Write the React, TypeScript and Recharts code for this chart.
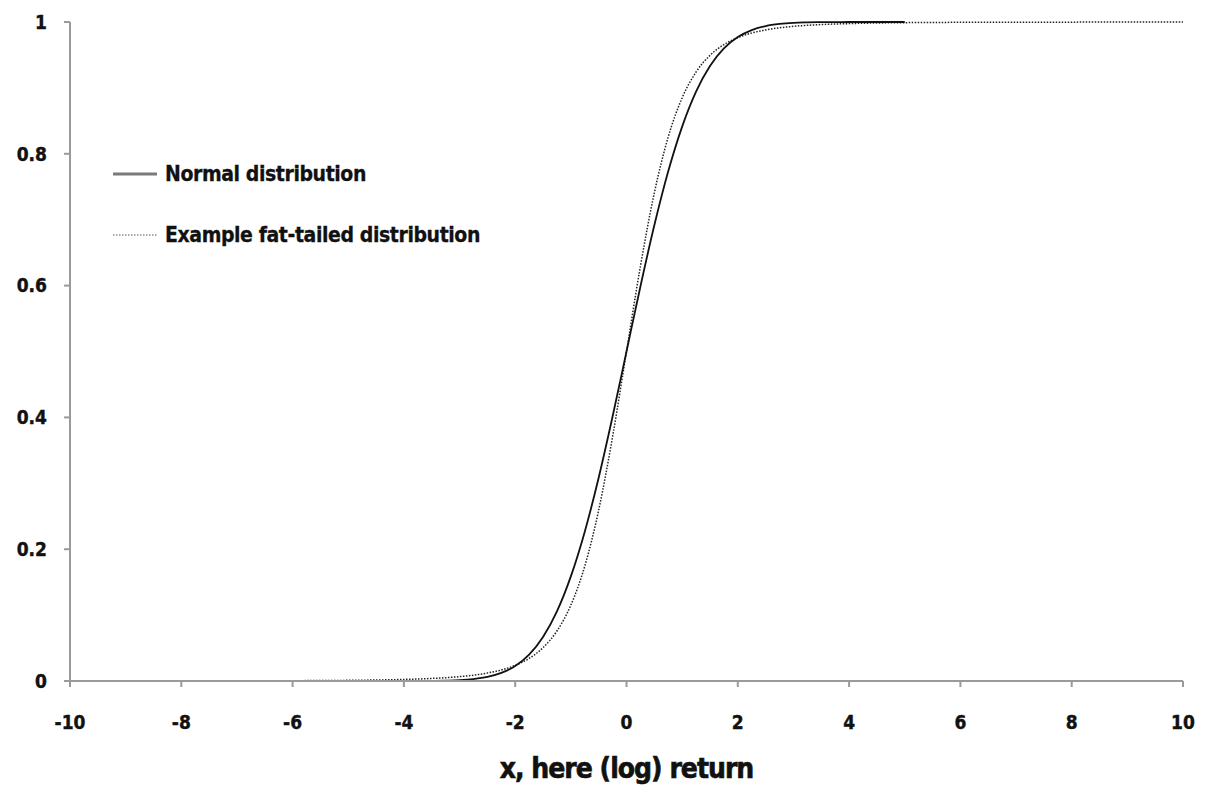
import React from "react";
import { LineChart, Line, XAxis, YAxis, Label } from "recharts";

// normal distribution CDF (drawn from -5 to 5)
const normalX = [-5, -4.5, -4, -3.75, -3.5, -3.25, -3, -2.75, -2.5, -2.25, -2, -1.75, -1.5, -1.25, -1, -0.75, -0.5, -0.25, 0,
  0.25, 0.5, 0.75, 1, 1.25, 1.5, 1.75, 2, 2.25, 2.5, 2.75, 3, 3.25, 3.5, 3.75, 4, 4.5, 5];
const normalY = [0, 0, 0, 0.0001, 0.0002, 0.0006, 0.0013, 0.003, 0.0062, 0.0122, 0.0228, 0.0401, 0.0668, 0.1056, 0.1587, 0.2266, 0.3085, 0.4013, 0.5,
  0.5987, 0.6915, 0.7734, 0.8413, 0.8944, 0.9332, 0.9599, 0.9772, 0.9878, 0.9938, 0.997, 0.9987, 0.9994, 0.9998, 0.9999, 1, 1, 1];

// fat-tailed CDF (drawn from -10 to 10)
const fatX = [-10, -9, -8, -7, -6, -5, -4, -3.5, -3, -2.75, -2.5, -2.25, -2, -1.75, -1.5, -1.25, -1, -0.75, -0.5, -0.25, 0,
  0.25, 0.5, 0.75, 1, 1.25, 1.5, 1.75, 2, 2.25, 2.5, 2.75, 3, 3.5, 4, 5, 6, 7, 8, 9, 10];
const fatY = [0.0001, 0.0001, 0.0002, 0.0003, 0.0005, 0.001, 0.0024, 0.0039, 0.0066, 0.0088, 0.0121, 0.0167, 0.0237, 0.0343, 0.0506, 0.0759, 0.1151, 0.1743, 0.2593, 0.3707, 0.5,
  0.6293, 0.7407, 0.8257, 0.8849, 0.9241, 0.9494, 0.9657, 0.9763, 0.9833, 0.9879, 0.9912, 0.9934, 0.9961, 0.9976, 0.999, 0.9995, 0.9997, 0.9998, 0.9999, 0.9999];

const xTicks = [-10, -8, -6, -4, -2, 0, 2, 4, 6, 8, 10];
const yTicks = [0, 0.2, 0.4, 0.6, 0.8, 1];

const normalData = normalX.map((x, i) => ({ x, y: normalY[i] }));
const fatData = fatX.map((x, i) => ({ x, y: fatY[i] }));

const font = "'DejaVu Sans Condensed', 'DejaVu Sans', sans-serif";
const axisGrey = "#9a9a9a";
const tickStyle = { fill: "#111", stroke: "#111", strokeWidth: 0.4, fontFamily: font, fontWeight: "bold", fontSize: 19 };

// legend sits inside the plot, top left, like the original
const LegendBox = () => (
  <div style={{ position: "absolute", left: 105, top: 153, fontFamily: font, fontWeight: "bold", fontSize: 21, color: "#111", letterSpacing: -0.4, WebkitTextStroke: "0.3px #111" }}>
    <div style={{ display: "flex", alignItems: "center", height: 26 }}>
      <svg width={52} height={10}><line x1={0} y1={5} x2={44} y2={5} stroke="#7a7a7a" strokeWidth={3} /></svg>
      <span>Normal distribution</span>
    </div>
    <div style={{ display: "flex", alignItems: "center", height: 26, marginTop: 35 }}>
      <svg width={52} height={10}><line x1={0} y1={5} x2={44} y2={5} stroke="#555" strokeWidth={1} strokeDasharray="1.5 1.5" /></svg>
      <span>Example fat-tailed distribution</span>
    </div>
  </div>
);

export default function App() {
  return (
    <div style={{ position: "relative", width: 1200, height: 780, background: "#fff" }}>
      <LineChart width={1200} height={780} margin={{ top: 14, right: 25, left: 0, bottom: 1 }}>
        <XAxis
          type="number"
          dataKey="x"
          domain={[-10, 10]}
          ticks={xTicks}
          allowDuplicatedCategory={false}
          stroke={axisGrey}
          strokeWidth={2}
          tickSize={6}
          tickMargin={29}
          height={106}
          tick={tickStyle}
        >
          <Label
            value="x, here (log) return"
            position="insideBottom"
            offset={9}
            style={{ fill: "#111", stroke: "#111", strokeWidth: 0.6, fontFamily: font, fontWeight: "bold", fontSize: 28, letterSpacing: -1 }}
          />
        </XAxis>
        <YAxis
          type="number"
          domain={[0, 1]}
          ticks={yTicks}
          stroke={axisGrey}
          strokeWidth={2}
          tickSize={6}
          tickMargin={17}
          width={62}
          tick={tickStyle}
        />
        <Line
          data={fatData}
          dataKey="y"
          type="monotone"
          stroke="#222"
          strokeWidth={1.5}
          strokeDasharray="1.5 1.5"
          dot={false}
          isAnimationActive={false}
        />
        <Line
          data={normalData}
          dataKey="y"
          type="monotone"
          stroke="#111"
          strokeWidth={1.8}
          dot={false}
          isAnimationActive={false}
        />
      </LineChart>
      <LegendBox />
    </div>
  );
}
